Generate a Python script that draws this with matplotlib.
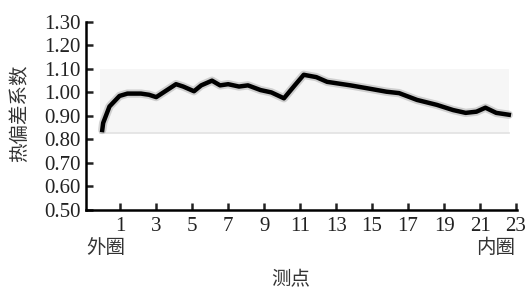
import matplotlib
matplotlib.use("Agg")
import matplotlib.pyplot as plt

plt.rcParams["font.family"] = ["Liberation Serif", "Noto Sans CJK SC"]
plt.rcParams["axes.unicode_minus"] = False

# 测点位置 / 热偏差系数
pos = [0.0, 0.05, 0.4, 0.96, 1.4, 2.15, 2.6, 3.0, 3.4, 4.1, 4.5, 5.1, 5.5, 6.1, 6.55,
       7.0, 7.6, 8.1, 8.8, 9.4, 10.1, 10.7, 11.2, 11.9, 12.5, 13.8, 14.7, 15.8, 16.5,
       17.5, 18.6, 19.5, 20.2, 20.8, 21.3, 21.9, 22.6]
coef = [0.84, 0.87, 0.94, 0.985, 0.995, 0.995, 0.99, 0.98, 1.0, 1.035, 1.025, 1.005,
        1.03, 1.05, 1.03, 1.035, 1.025, 1.03, 1.01, 1.0, 0.975, 1.03, 1.075, 1.065,
        1.045, 1.03, 1.018, 1.003, 0.997, 0.968, 0.947, 0.925, 0.913, 0.918, 0.935,
        0.913, 0.905]
band_x = [-0.15, 22.6]
band_lo, band_hi = 0.828, 1.10
xticks = list(range(1, 24, 2))
yticks = [0.5, 0.6, 0.7, 0.8, 0.9, 1.0, 1.1, 1.2, 1.3]

fig = plt.figure(figsize=(5.28, 2.92), dpi=100)
ax = fig.add_axes([0.163, 0.281, 0.816, 0.644])

ax.fill_between(band_x, band_lo, band_hi, color="#f6f6f6", lw=0, zorder=0)
ax.plot(band_x, [band_lo, band_lo], color="#e2e2e2", lw=1.2, zorder=1)
ax.plot(pos, coef, color="#888888", lw=6, alpha=0.35, solid_capstyle="round", zorder=2)
ax.plot(pos, coef, color="black", lw=3.2, solid_joinstyle="round", zorder=3)

ax.set_xlim(-0.9, 23.05)
ax.set_ylim(0.5, 1.3)
ax.set_xticks(xticks)
ax.set_yticks(yticks)
ax.set_yticklabels([f"{v:.2f}" for v in yticks])
for s in ("top", "right"):
    ax.spines[s].set_visible(False)
for s in ("left", "bottom"):
    ax.spines[s].set_linewidth(1.8)
ax.tick_params(direction="in", length=5, width=1.8, labelsize=15, colors="#222222", pad=5)
ax.tick_params(axis="y", pad=4)

fig.text(20 / 528, 1 - 113.5 / 292, "热偏差系数", rotation=90, ha="center", va="center",
         fontsize=14, color="#333333")
fig.text(86 / 528, 1 - 248 / 292, "外圈", ha="left", va="center", fontsize=14, color="#333333")
fig.text(515 / 528, 1 - 248 / 292, "内圈", ha="right", va="center", fontsize=14, color="#333333")
fig.text(291 / 528, 1 - 280 / 292, "测点", ha="center", va="center", fontsize=14, color="#333333")

fig.savefig("out.png", dpi=100, facecolor="white")
